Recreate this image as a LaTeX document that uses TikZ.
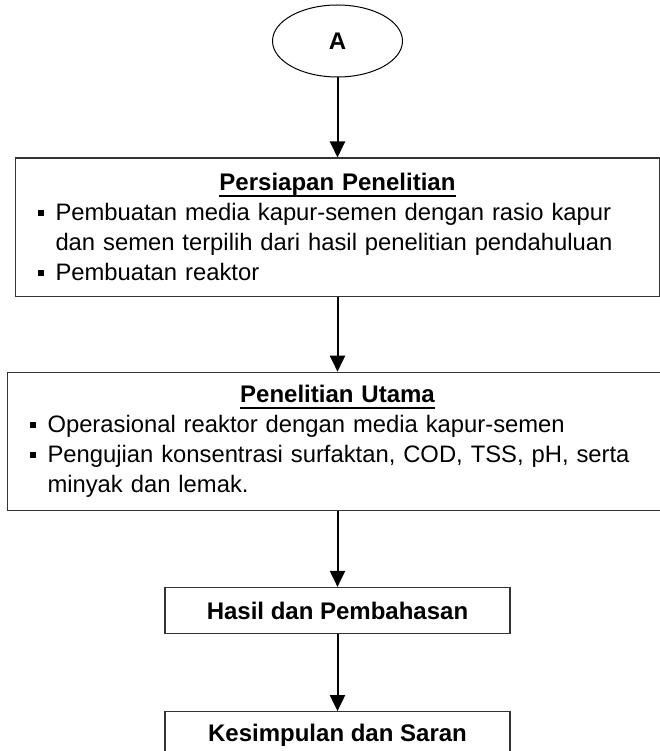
\documentclass[tikz,border=0pt]{standalone}
\usepackage{fontspec}
\setmainfont{Liberation Sans}
\usetikzlibrary{positioning,arrows.meta,shapes.geometric}

\newcommand{\bulitem}[1]{\hspace*{22pt}\rule[5pt]{6pt}{6pt}\hspace*{12pt}#1}
\newcommand{\bulcont}[1]{\hspace*{40pt}#1}
\newcommand{\ulbold}[2]{\makebox[#1]{\fontsize{24}{30}\selectfont\bfseries
    \setbox0\hbox{#2}\rlap{\rule[-6pt]{\wd0}{1.8pt}}\box0}}

\begin{document}
\begin{tikzpicture}[
    every node/.style={font=\fontsize{23.8}{30}\selectfont},
    startnode/.style={
        draw, ellipse, line width=1pt,
        minimum width=130pt, minimum height=72pt,
        font=\fontsize{24}{28}\selectfont\bfseries
    },
    listbox/.style={
        draw=black!80, line width=1.2pt,
        minimum height=138pt, inner xsep=0pt, inner ysep=0pt, align=left
    },
    plainbox/.style={
        draw=black!80, line width=1.2pt,
        minimum width=345pt, minimum height=46pt,
        font=\fontsize{24}{28}\selectfont\bfseries
    },
    arr/.style={-{Triangle[length=16pt, width=15pt]}, line width=2pt},
]

\useasboundingbox (0,0) rectangle (660pt,-751pt);

% === Start ===
\node[startnode] (start) at (337.5pt,-41pt) {A};

% === Persiapan ===
\node[listbox, text width=644pt, below=80pt of start] (prep)
    {\ulbold{644pt}{Persiapan Penelitian}\\
     \bulitem{Pembuatan media kapur-semen dengan rasio kapur}\\
     \bulcont{dan semen terpilih dari hasil penelitian pendahuluan}\\
     \bulitem{Pembuatan reaktor}};

% === Penelitian Utama ===
\node[listbox, text width=660pt, below=75pt of prep] (main)
    {\ulbold{660pt}{Penelitian Utama}\\
     \bulitem{Operasional reaktor dengan media kapur-semen}\\
     \bulitem{Pengujian konsentrasi surfaktan, COD, TSS, pH, serta}\\
     \bulcont{minyak dan lemak.}};

% === Hasil / Kesimpulan ===
\node[plainbox, below=76pt of main] (result) {Hasil dan Pembahasan};
\node[plainbox, minimum height=48pt, below=77pt of result] (concl) {Kesimpulan dan Saran};

% Flow arrows
\foreach \a/\b in {start/prep, prep/main, main/result, result/concl} {
    \draw[arr] (\a) -- (\b);
}

\end{tikzpicture}
\end{document}
